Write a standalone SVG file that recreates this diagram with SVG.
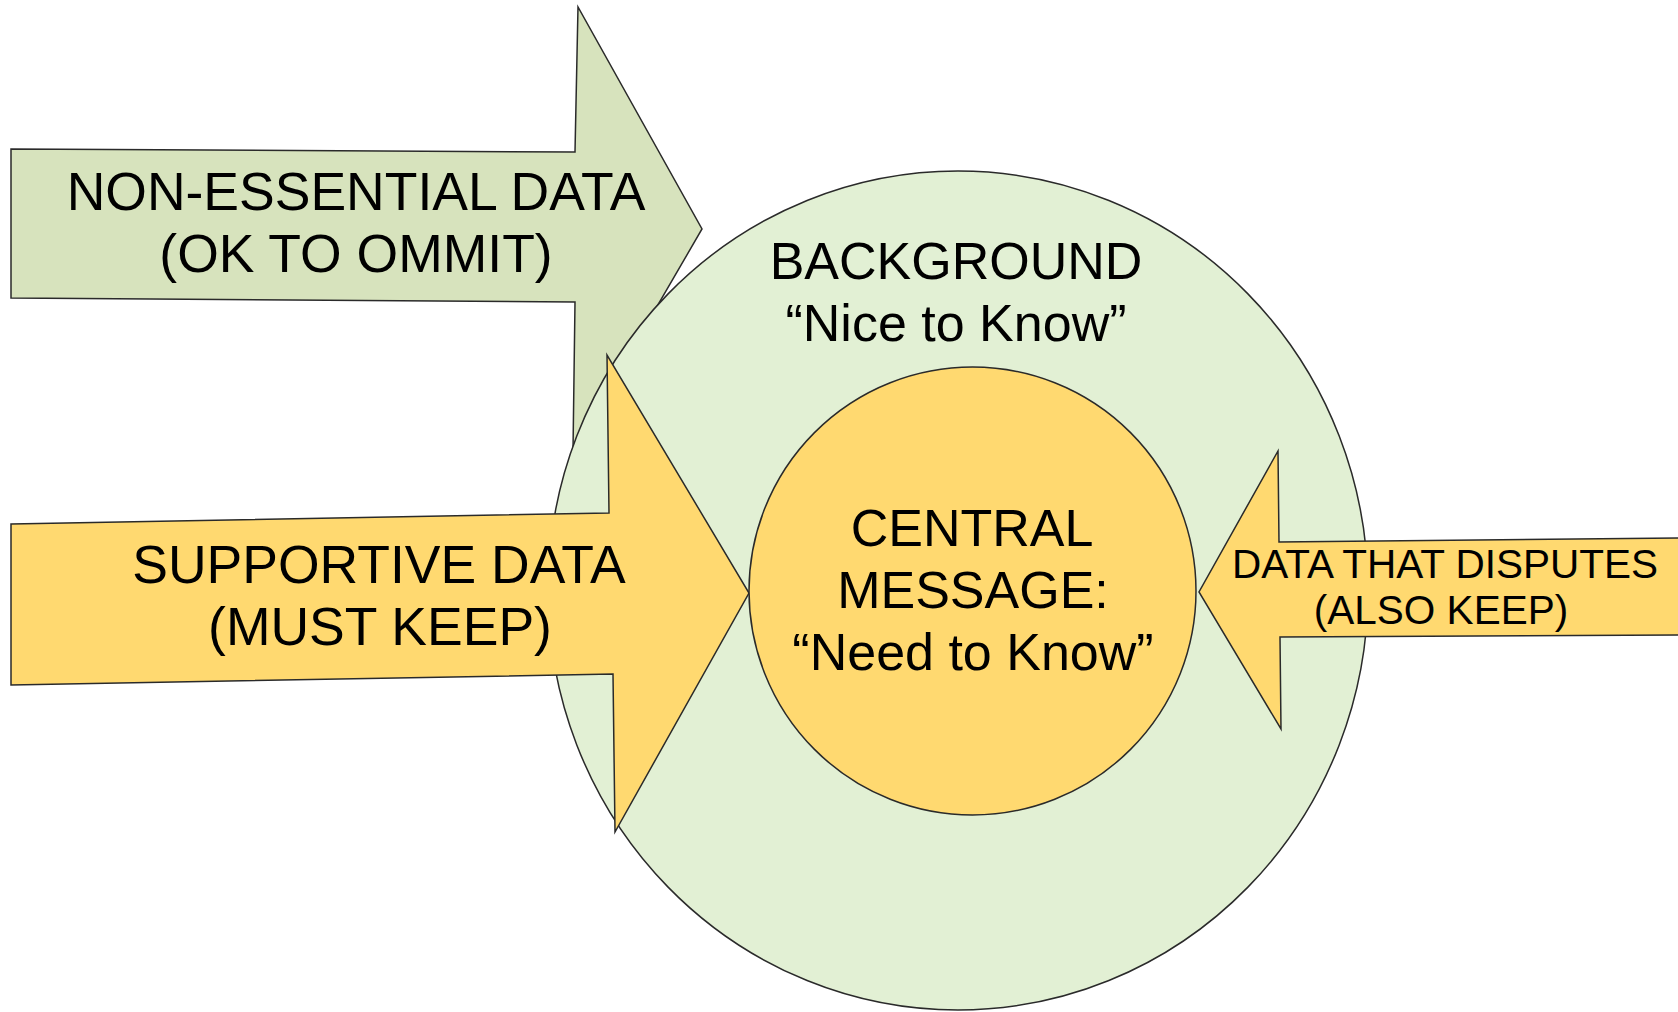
<svg xmlns="http://www.w3.org/2000/svg" width="1678" height="1012" viewBox="0 0 1678 1012">
<style>
.shape{stroke:#2a2a2a;stroke-width:1.5;stroke-linejoin:miter}
.g1{fill:#d7e3bd}
.g2{fill:#e2f0d4}
.y{fill:#ffd970}
text{font-family:"Liberation Sans",Arial,sans-serif;fill:#000;text-anchor:middle}
.big{font-size:52px}
.arr{font-size:53.5px}
.small{font-size:40.5px}
</style>
<rect width="1678" height="1012" fill="#fff"/>
<g id="non-essential">
<polygon class="shape g1" points="11,149 575,152 578,7 702,229 573,451 575,302 11,298"/>
<text class="arr" x="356" y="210">NON-ESSENTIAL DATA</text>
<text class="arr" x="356" y="272">(OK TO OMMIT)</text>
</g>
<g id="background">
<ellipse class="shape g2" cx="958" cy="590.5" rx="410" ry="419.5"/>
<text class="big" x="956" y="279">BACKGROUND</text>
<text class="big" x="956" y="341">“Nice to Know”</text>
</g>
<g id="supportive">
<polygon class="shape y" points="11,524 609,513 607,355 749,593 615,832 613,674 11,685"/>
<text class="arr" x="379" y="583">SUPPORTIVE DATA</text>
<text class="arr" x="380" y="645">(MUST KEEP)</text>
</g>
<g id="central">
<ellipse class="shape y" cx="972.5" cy="591" rx="223.5" ry="224"/>
<text class="big" x="972" y="546">CENTRAL</text>
<text class="big" x="973" y="608">MESSAGE:</text>
<text class="big" x="973" y="670">“Need to Know”</text>
</g>
<g id="disputes">
<polygon class="shape y" points="1690,538 1279,542 1278,451 1199,592 1281,729 1280,637 1690,635"/>
<text class="small" x="1445" y="578">DATA THAT DISPUTES</text>
<text class="small" x="1441" y="624">(ALSO KEEP)</text>
</g>
<g id="connectors"></g>
</svg>
